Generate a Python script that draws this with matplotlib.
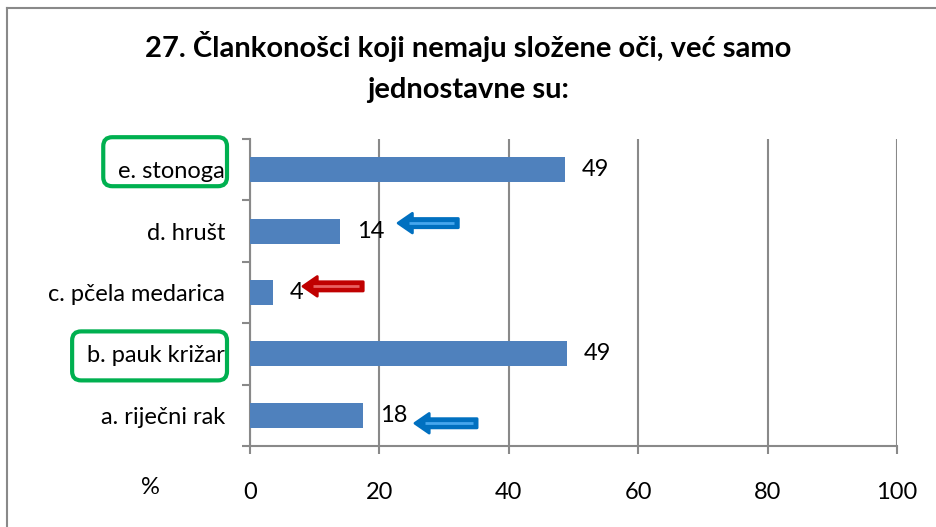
import matplotlib.pyplot as plt
from matplotlib.patches import FancyBboxPatch, FancyArrow
from matplotlib.lines import Line2D

# podaci
kategorije = ['a. riječni rak', 'b. pauk križar', 'c. pčela medarica', 'd. hrušt', 'e. stonoga']
postoci = [17.5, 49.0, 3.6, 13.9, 48.7]
oznake = ['18', '49', '4', '14', '49']
x_ticks = [0, 20, 40, 60, 80, 100]

# strelice (kategorija, vrh_x, rep_x, y pomak, boja, svijetla boja)
strelice = [(3, 22.9, 32.2, 0.13, '#0070C0', '#45A6EE'),
            (2, 8.2, 17.5, 0.10, '#C00000', '#E86060'),
            (0, 25.5, 35.1, -0.13, '#0070C0', '#45A6EE')]
oznacene = [4, 1]  # zeleni okviri oko ovih kategorija

plt.rcParams['font.family'] = ['Lato', 'DejaVu Sans']
GRAY = '#898989'
FS = 17

fig = plt.figure(figsize=(9.36, 5.27), dpi=100)
ax = fig.add_axes([250 / 936, 1 - 446 / 527, 647 / 936, 307 / 527])

ys = list(range(len(kategorije)))
ax.barh(ys, postoci, height=0.41, color='#4F81BD', zorder=3)
for y, v, t in zip(ys, postoci, oznake):
    ax.text(v + 2.6, y, t, va='center', ha='left', fontsize=FS, zorder=4)

ax.set_xlim(0, 100)
ax.set_ylim(-0.5, len(kategorije) - 0.5)
ax.set_xticks(x_ticks)
ax.set_xticklabels([str(t) for t in x_ticks], fontsize=FS)
ax.set_yticks(ys)
ax.set_yticklabels(kategorije, fontsize=FS)
ax.set_yticks([i - 0.5 for i in range(len(kategorije) + 1)], minor=True)
ax.tick_params(axis='y', which='major', length=0, pad=18)
ax.tick_params(axis='y', which='minor', length=6, color=GRAY, width=1.5, direction='out')
ax.tick_params(axis='x', length=6, color=GRAY, width=1.5, direction='out', pad=20)
ax.grid(axis='x', color=GRAY, linewidth=1.5, zorder=0)
for s in ['top', 'right']:
    ax.spines[s].set_visible(False)
for s in ['left', 'bottom']:
    ax.spines[s].set_color(GRAY)
    ax.spines[s].set_linewidth(1.5)

# strelice
for cat, tip, tail, dy, c, c2 in strelice:
    y = cat + dy
    ar = FancyArrow(tail, y, tip - tail, 0, width=0.15, head_width=0.32, head_length=2.2,
                    length_includes_head=True, color=c, zorder=5, linewidth=2, joinstyle='round')
    ax.add_patch(ar)
    ax.plot([tip + 1.6, tail - 0.6], [y, y], color=c2, linewidth=2, zorder=6,
            solid_capstyle='butt')

# zeleni okviri oko oznaka
fig.canvas.draw()
rend = fig.canvas.get_renderer()
labels = ax.get_yticklabels()
for i in oznacene:
    bb = labels[i].get_window_extent(rend)
    x0 = bb.x0 - 15
    x1 = 227
    yc = (bb.y0 + bb.y1) / 2
    h = 49
    yoff = 10 if i == 4 else 0
    box = FancyBboxPatch((x0, yc - h / 2 + yoff), x1 - x0, h,
                         boxstyle='round,pad=0,rounding_size=9', fill=False,
                         edgecolor='#00B050', linewidth=3, transform=None, zorder=10)
    fig.patches.append(box)

fig.text(150 / 936, 1 - 488 / 527, '%', fontsize=FS, ha='center', va='center')

fig.text(0.5, 1 - 47 / 527, '27. Člankonošci koji nemaju složene oči, već samo', ha='center',
         va='center', fontsize=21, fontweight='bold')
fig.text(0.5, 1 - 90 / 527, 'jednostavne su:', ha='center', va='center', fontsize=21,
         fontweight='bold')

# okvir grafikona
fig.add_artist(Line2D([7 / 936, 1], [1 - 8 / 527, 1 - 8 / 527], color=GRAY, linewidth=1.5,
                      transform=fig.transFigure))
fig.add_artist(Line2D([7 / 936, 7 / 936], [0, 1 - 8 / 527], color=GRAY, linewidth=1.5,
                      transform=fig.transFigure))

fig.savefig('out.png', dpi=100)
